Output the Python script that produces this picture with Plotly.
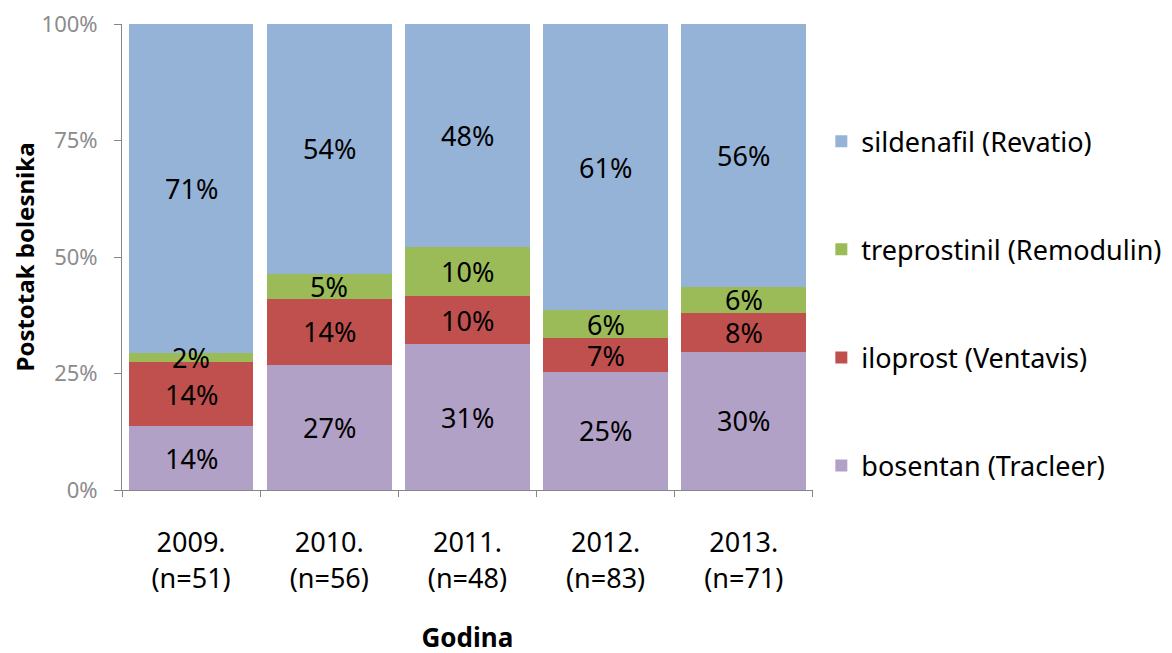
import plotly.graph_objects as go

years = ["2009.<br>(n=51)", "2010.<br>(n=56)", "2011.<br>(n=48)", "2012.<br>(n=83)", "2013.<br>(n=71)"]

bosentan = [13.7, 26.8, 31.2, 25.3, 29.6]
iloprost = [13.7, 14.3, 10.4, 7.2, 8.4]
treprostinil = [2.0, 5.4, 10.4, 6.0, 5.6]
sildenafil = [70.6, 53.6, 47.9, 61.4, 56.3]

series = [
    ("bosentan (Tracleer)", bosentan, "#B2A1C7"),
    ("iloprost (Ventavis)", iloprost, "#C0504D"),
    ("treprostinil (Remodulin)", treprostinil, "#9BBB59"),
    ("sildenafil (Revatio)", sildenafil, "#95B3D7"),
]

FONT = "Noto Sans"

fig = go.Figure()
for i, (name, vals, color) in enumerate(series):
    fig.add_trace(go.Bar(
        x=years, y=vals, name=name, marker=dict(color=color, line=dict(width=0)),
        legendgroup=str(i), legendrank=len(series) - i,
    ))

# data labels centred in each segment
base = [0.0] * len(years)
totals = [sum(s[1][k] for s in series) for k in range(len(years))]
for name, vals, color in series:
    for k, v in enumerate(vals):
        mid = (base[k] + v / 2) / totals[k] * 100
        fig.add_annotation(x=years[k], y=mid, text=f"{v:.0f}%", showarrow=False,
                           font=dict(family=FONT, size=27, color="black"))
        base[k] += v

# page body adds an 8px offset; plot width is set through the x domain so the
# legend stays inside the paper and does not push the margins
fig.update_layout(
    barmode="stack",
    barnorm="percent",
    bargap=0.097,
    width=1172, height=653,
    margin=dict(l=114, r=0, t=16, b=171),
    paper_bgcolor="white", plot_bgcolor="white",
    font=dict(family=FONT, size=20, color="black"),
    showlegend=True,
    legend=dict(
        traceorder="grouped",
        tracegroupgap=70,
        x=0.661, xanchor="left", y=0.80, yanchor="top",
        font=dict(family=FONT, size=27, color="black"),
        bgcolor="rgba(0,0,0,0)",
        itemwidth=30,
    ),
    xaxis=dict(
        domain=[0, 0.653],
        automargin=False,
        showline=True, linecolor="#868686", linewidth=1,
        ticks="outside", tickson="boundaries", ticklen=6, tickcolor="#868686",
        tickfont=dict(family=FONT, size=27, color="black"),
        ticklabelstandoff=29,
        title=dict(text="<b>Godina</b>", font=dict(family=FONT, size=26, color="black"), standoff=34),
        showgrid=False,
    ),
    yaxis=dict(
        automargin=False,
        range=[0, 100],
        tickvals=[0, 25, 50, 75, 100],
        ticktext=["0%", "25%", "50%", "75%", "100%"],
        showline=True, linecolor="#868686", linewidth=1,
        ticks="outside", ticklen=7, tickcolor="#868686",
        tickfont=dict(family=FONT, size=22, color="#8C8C8C"),
        ticklabelstandoff=12,
        ticklabeloverflow="allow",
        title=dict(text="<b>Postotak bolesnika</b>", font=dict(family=FONT, size=24, color="black")),
        showgrid=False, zeroline=False,
    ),
)

fig.write_html("out.html")
